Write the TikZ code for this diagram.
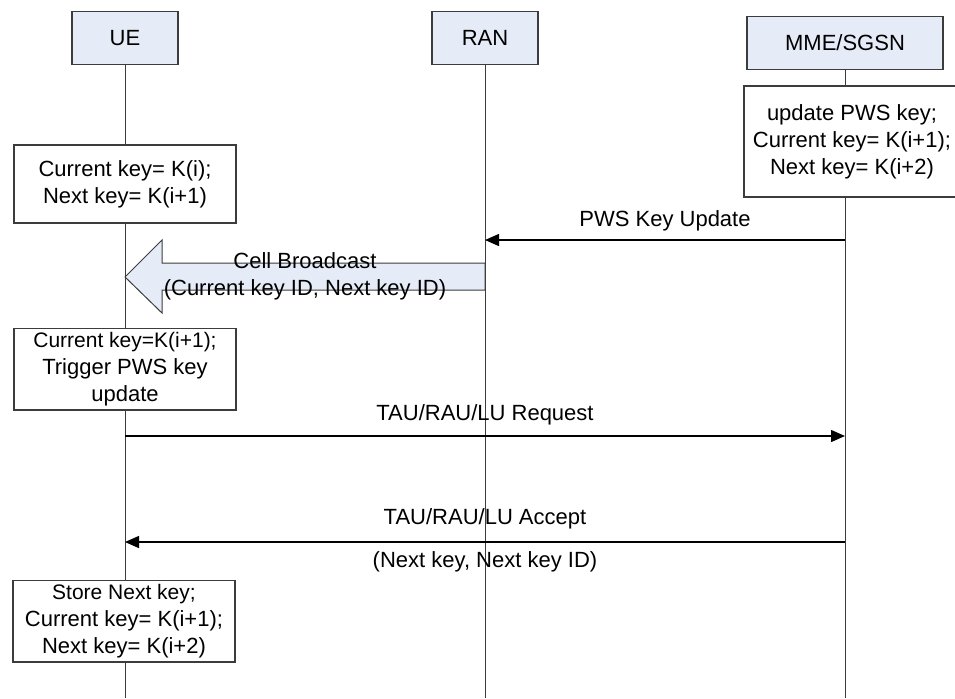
\documentclass[tikz,border=0pt]{standalone}
\usepackage{fontspec}
\setmainfont{Liberation Sans}
\usepackage{tikz}
\usetikzlibrary{calc, arrows.meta, positioning}

\definecolor{hdrblue}{RGB}{230,236,247}
\definecolor{boxgray}{RGB}{60,60,60}

\begin{document}
\begin{tikzpicture}[x=0.5pt, y=-0.5pt, >={Triangle[length=7pt,width=6pt]},
  font=\fontsize{11}{13.5}\selectfont]
\tikzstyle{entity}=[draw=boxgray, fill=hdrblue, line width=0.6pt, minimum height=26.5pt, inner sep=0pt]
\tikzstyle{state}=[draw=boxgray, fill=white, line width=0.6pt, align=center, minimum width=111pt, inner sep=2pt]
\tikzstyle{life}=[line width=0.5pt, draw=boxgray]
\tikzstyle{msg}=[->, line width=0.7pt]
\useasboundingbox (0,0) rectangle (955,698);
% entities
\node[entity, minimum width=53pt] (ue)  at (125,38) {UE};
\node[entity, minimum width=53pt] (ran) at (485,38) {RAN};
\node[entity, minimum width=98pt] (mme) at (845,43) {MME/SGSN};
% lifelines
\draw[life] (ue.south)  -- (ue |- 0,698);
\draw[life] (ran.south) -- (ran |- 0,698);
\draw[life] (mme.south) -- (mme |- 0,698);
% states
\node[state, minimum height=55.5pt, minimum width=108pt] (mmekey) at (852,141.5) {update PWS key;\\Current key= K(i+1);\\Next key= K(i+2)};
\node[state, minimum height=39pt] (uekey1) at (125,184) {Current key= K(i);\\Next key= K(i+1)};
\node[state, minimum height=39pt] (uekey2) at (125,369) {\fontsize{10.5}{13.5}\selectfont Current key=K(i+1);\\Trigger PWS key\\update};
\node[state, minimum height=40pt] (uekey3) at (124,621) {\fontsize{10.5}{13.5}\selectfont Store Next key;\\Current key= K(i+1);\\Next key= K(i+2)};
% messages
\draw[msg] (mme |- 0,240) -- node[above=1pt] {PWS Key Update} (ran |- 0,240);
\coordinate (bcfrom) at (ran |- 0,277);
\coordinate (bcto)   at (ue |- 0,277);
\filldraw[draw=boxgray, fill=hdrblue, line width=0.5pt]
  (bcto) -- ($(bcto)+(37,-37)$) -- ($(bcto)+(37,-14)$) -- ($(bcfrom)+(0,-14)$)
  -- ($(bcfrom)+(0,13)$) -- ($(bcto)+(37,13)$) -- ($(bcto)+(37,36)$) -- cycle;
\draw[life] (ran |- 0,255) -- (ran |- 0,300);
\node[align=center] (bclabel) at (305,276) {Cell Broadcast\\(Current key ID, Next key ID)};
\draw[msg] (ue |- 0,436) -- node[above=2pt] {TAU/RAU/LU Request} (mme |- 0,436);
\draw[msg] (mme |- 0,542) -- node[above=3pt] {TAU/RAU/LU Accept}
  node[below=1pt] {(Next key, Next key ID)} (ue |- 0,542);
\end{tikzpicture}
\end{document}
